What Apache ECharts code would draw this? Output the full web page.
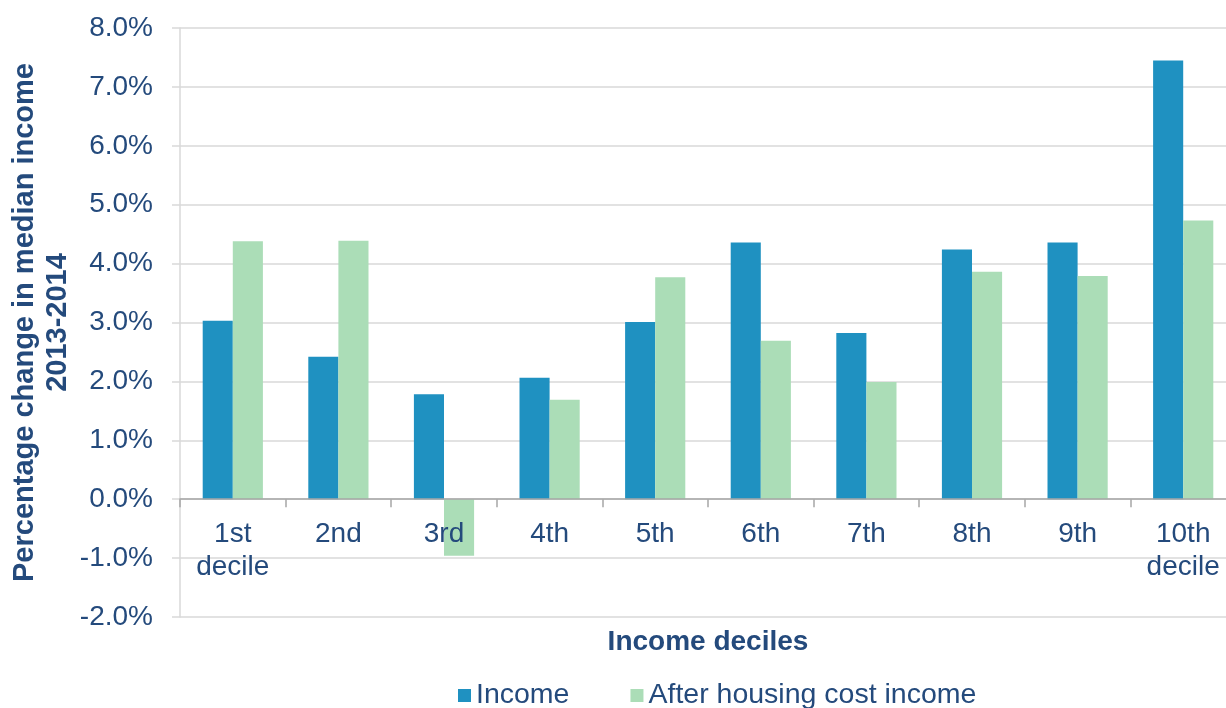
<!DOCTYPE html>
<html>
<head>
<meta charset="utf-8">
<script src="https://cdn.jsdelivr.net/npm/echarts@6/dist/echarts.min.js"></script>
<style>
html,body{margin:0;padding:0;background:#fff;}
#chart{width:1226px;height:708px;}
</style>
</head>
<body>
<div id="chart"></div>
<script>
const categories = ['1st\ndecile', '2nd', '3rd', '4th', '5th', '6th', '7th', '8th', '9th', '10th\ndecile'];
const incomeValues = [3.03, 2.42, 1.78, 2.06, 3.01, 4.36, 2.82, 4.24, 4.36, 7.45];
const ahcValues = [4.38, 4.39, -0.96, 1.69, 3.77, 2.69, 1.99, 3.86, 3.79, 4.73];
const seriesNames = ['Income', 'After housing cost income'];
const yTitle = 'Percentage change in median income\n2013-2014';
const xTitle = 'Income deciles';

const textColor = '#244A7C';
const font = 'Liberation Sans, Arial, sans-serif';

const chart = echarts.init(document.getElementById('chart'), null, {renderer: 'canvas'});
chart.setOption({
  animation: false,
  backgroundColor: '#ffffff',
  textStyle: {fontFamily: font},
  grid: {left: 180, right: -10, top: 28, bottom: 91, containLabel: false, outerBoundsMode: 'none'},
  legend: {
    left: 453, top: 676,
    itemWidth: 13, itemHeight: 13, itemGap: 61,
    icon: 'rect',
    textStyle: {fontSize: 28.5, color: textColor, fontFamily: font},
    data: seriesNames
  },
  xAxis: {
    type: 'category',
    data: categories,
    z: 3,
    axisLine: {onZero: true, lineStyle: {color: '#A6A6A6', width: 1.5}},
    axisTick: {show: true, length: 8, lineStyle: {color: '#A6A6A6', width: 1.5}},
    axisLabel: {fontSize: 28, color: textColor, fontFamily: font, margin: -99, lineHeight: 33, interval: 0},
    name: xTitle,
    nameLocation: 'middle',
    nameGap: 11,
    nameMoveOverlap: false,
    nameTextStyle: {fontSize: 28, fontWeight: 'bold', color: textColor, fontFamily: font}
  },
  yAxis: {
    type: 'value',
    min: -2, max: 8, interval: 1,
    axisLine: {show: true, lineStyle: {color: '#D9D9D9', width: 1.5}},
    axisTick: {show: true, length: 8, lineStyle: {color: '#D9D9D9', width: 1.5}},
    splitLine: {show: true, lineStyle: {color: '#D9D9D9', width: 1.5}},
    axisLabel: {fontSize: 28, color: textColor, fontFamily: font, margin: 27,
      formatter: v => v.toFixed(1) + '%'},
    name: yTitle,
    nameLocation: 'middle',
    nameRotate: 90,
    nameGap: 106,
    nameMoveOverlap: false,
    nameTextStyle: {fontSize: 29, fontWeight: 'bold', color: textColor, fontFamily: font, lineHeight: 33}
  },
  series: [
    {name: seriesNames[0], type: 'bar', data: incomeValues, barGap: '0%', barCategoryGap: '43%',
     itemStyle: {color: '#1F91C1'}},
    {name: seriesNames[1], type: 'bar', data: ahcValues,
     itemStyle: {color: '#ABDDB7'}}
  ]
});
</script>
</body>
</html>
